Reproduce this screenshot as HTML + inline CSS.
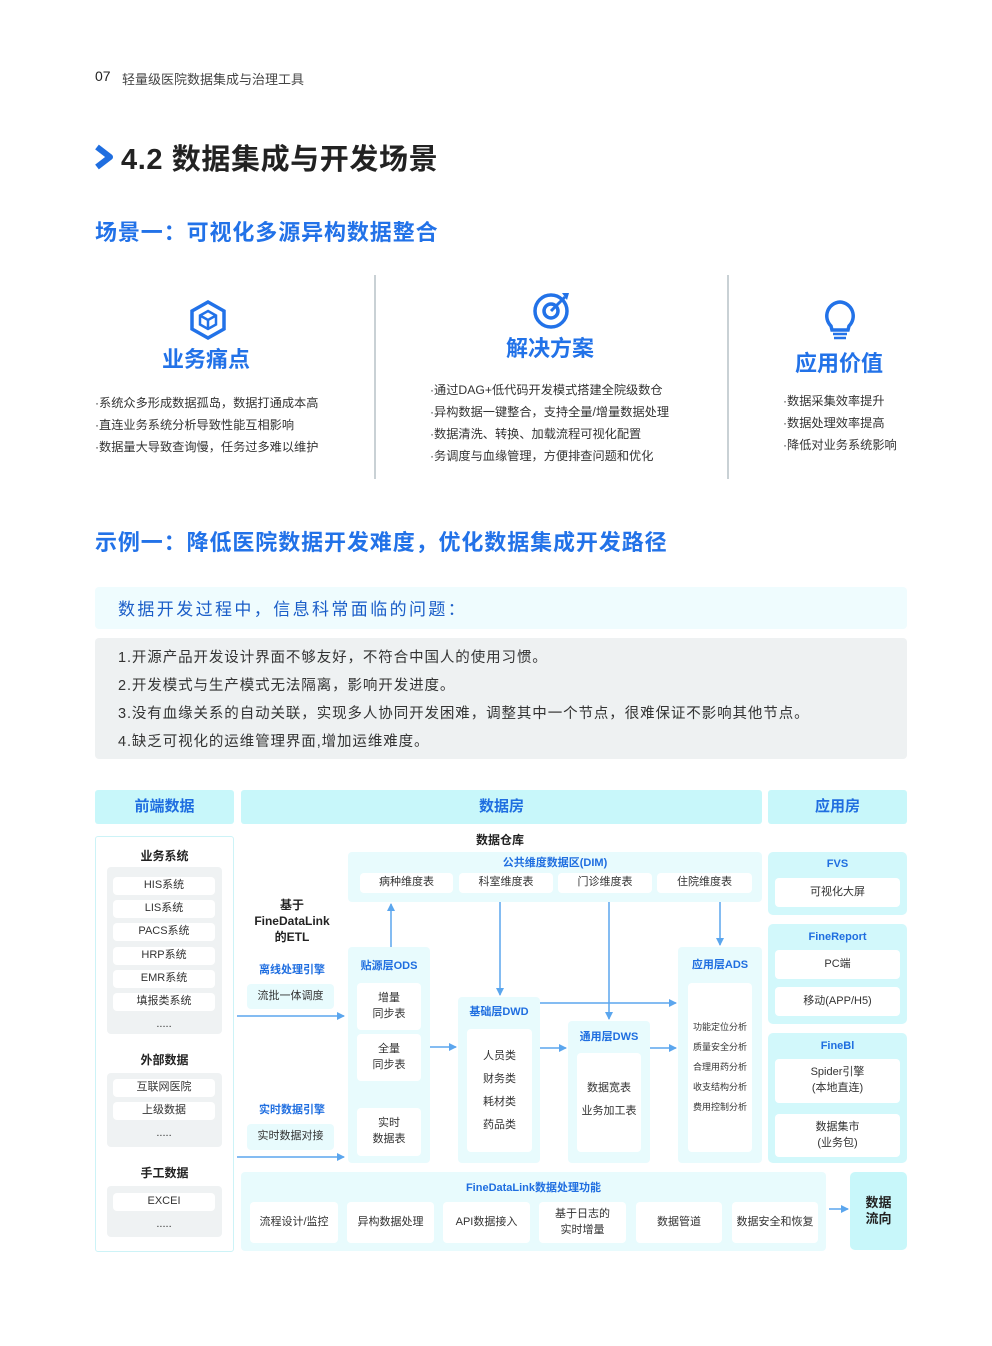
<!DOCTYPE html>
<html><head><meta charset="utf-8"><style>
*{margin:0;padding:0;box-sizing:border-box}
body{width:992px;height:1346px;background:#fff;position:relative;overflow:hidden;font-family:"Liberation Sans","Noto Sans CJK SC",sans-serif;color:#333}
.a{position:absolute}
.c{position:absolute;display:flex;align-items:center;justify-content:center;text-align:center;line-height:1.45}
.t{position:absolute;white-space:nowrap}
.hb{background:#c8f7fa;color:#1f6ee0;font-weight:bold;font-size:15px;border-radius:3px}
.lb{background:#e8fbfd;border-radius:4px}
.w{background:#fff;border-radius:4px;font-size:11px;color:#333}
.g{background:#eff2f3;border-radius:4px}
.bl{color:#1f6ee0;font-weight:bold;font-size:11px}
.bk{font-weight:bold;font-size:12px;color:#222}
.rb{background:#d2f8fb;border-radius:5px}
</style></head><body>
<div class="t" style="left:95px;top:68px;font-size:14px;color:#222">07</div>
<div class="t" style="left:122px;top:69px;font-size:13px;color:#444">轻量级医院数据集成与治理工具</div>
<svg class="a" style="left:94px;top:144px" width="20" height="26"><path d="M3 3 L16 13 L3 23" stroke="#1f6ee0" stroke-width="6" fill="none" stroke-linejoin="round"/></svg>
<div class="t" style="left:121px;top:136px;font-size:29px;font-weight:bold;color:#222;letter-spacing:0.6px">4.2 数据集成与开发场景</div>
<div class="t" style="left:95px;top:215px;font-size:22px;font-weight:bold;color:#2272e8;letter-spacing:0.9px">场景一：可视化多源异构数据整合</div>

<div class="a" style="left:374px;top:275px;width:1.5px;height:204px;background:#c9d1d5"></div>
<div class="a" style="left:727px;top:275px;width:1.5px;height:204px;background:#c9d1d5"></div>
<svg class="a" style="left:188px;top:299px" width="40" height="42"><path d="M20 3 L36 12 L36 30 L20 39 L4 30 L4 12 Z" fill="none" stroke="#2272e8" stroke-width="3.5"/><path d="M20 12 L28 16.5 L28 25.5 L20 30 L12 25.5 L12 16.5 Z M12 16.5 L20 21 L28 16.5 M20 21 L20 30" fill="none" stroke="#2272e8" stroke-width="2.5"/></svg>
<div class="t" style="left:162px;top:342px;font-size:22px;font-weight:bold;color:#2272e8">业务痛点</div>
<svg class="a" style="left:531px;top:290px" width="42" height="40"><circle cx="20" cy="21" r="16" fill="none" stroke="#2272e8" stroke-width="3.5"/><circle cx="20" cy="21" r="7" fill="none" stroke="#2272e8" stroke-width="3.5"/><path d="M20 21 L34 7" stroke="#2272e8" stroke-width="3"/><path d="M31 3 L38 3 L36 10" fill="#2272e8"/></svg>
<div class="t" style="left:506px;top:331px;font-size:22px;font-weight:bold;color:#2272e8">解决方案</div>
<svg class="a" style="left:822px;top:299px" width="36" height="42"><path d="M18 3 A14 14 0 0 1 27 27 L26 31 L10 31 L9 27 A14 14 0 0 1 18 3 Z" fill="none" stroke="#2272e8" stroke-width="3.5"/><path d="M11 35 H25 M12 39 H24" stroke="#2272e8" stroke-width="2.5"/></svg>
<div class="t" style="left:795px;top:346px;font-size:22px;font-weight:bold;color:#2272e8">应用价值</div>

<div class="t" style="left:95px;top:392px;font-size:12.2px;line-height:22px;color:#333">·系统众多形成数据孤岛，数据打通成本高<br>·直连业务系统分析导致性能互相影响<br>·数据量大导致查询慢，任务过多难以维护</div>
<div class="t" style="left:430px;top:379px;font-size:12.2px;line-height:22px;color:#333">·通过DAG+低代码开发模式搭建全院级数仓<br>·异构数据一键整合，支持全量/增量数据处理<br>·数据清洗、转换、加载流程可视化配置<br>·务调度与血缘管理，方便排查问题和优化</div>
<div class="t" style="left:783px;top:390px;font-size:12.2px;line-height:22px;color:#333">·数据采集效率提升<br>·数据处理效率提高<br>·降低对业务系统影响</div>

<div class="t" style="left:95px;top:525px;font-size:22px;font-weight:bold;color:#2272e8;letter-spacing:0.9px">示例一：降低医院数据开发难度，优化数据集成开发路径</div>
<div class="a" style="left:95px;top:587px;width:812px;height:42px;background:#effcfe;border-radius:4px"></div>
<div class="t" style="left:118px;top:595px;font-size:17px;color:#1b5ec8;letter-spacing:2.4px">数据开发过程中，信息科常面临的问题：</div>
<div class="a" style="left:95px;top:638px;width:812px;height:121px;background:#eef1f2;border-radius:4px"></div>
<div class="t" style="left:118px;top:644px;font-size:14.5px;line-height:28px;color:#333;letter-spacing:0.9px">1.开源产品开发设计界面不够友好，不符合中国人的使用习惯。<br>2.开发模式与生产模式无法隔离，影响开发进度。<br>3.没有血缘关系的自动关联，实现多人协同开发困难，调整其中一个节点，很难保证不影响其他节点。<br>4.缺乏可视化的运维管理界面,增加运维难度。</div>

<!-- diagram headers -->
<div class="c hb" style="left:95px;top:790px;width:139px;height:34px">前端数据</div>
<div class="c hb" style="left:241px;top:790px;width:521px;height:34px">数据房</div>
<div class="c hb" style="left:768px;top:790px;width:139px;height:34px">应用房</div>

<!-- left panel -->
<div class="a" style="left:95px;top:836px;width:139px;height:416px;border:1.5px solid #cdf3f7;border-radius:3px"></div>
<div class="c bk" style="left:95px;top:848px;width:139px;height:18px">业务系统</div>
<div class="a g" style="left:107px;top:867px;width:115px;height:167px"></div>
<div class="c w" style="left:113px;top:877px;width:102px;height:18px">HIS系统</div>
<div class="c w" style="left:113px;top:900px;width:102px;height:18px">LIS系统</div>
<div class="c w" style="left:113px;top:923px;width:102px;height:18px">PACS系统</div>
<div class="c w" style="left:113px;top:947px;width:102px;height:18px">HRP系统</div>
<div class="c w" style="left:113px;top:970px;width:102px;height:18px">EMR系统</div>
<div class="c w" style="left:113px;top:993px;width:102px;height:18px">填报类系统</div>
<div class="c" style="left:113px;top:1016px;width:102px;height:18px;font-size:11px">.....</div>
<div class="c bk" style="left:95px;top:1052px;width:139px;height:18px">外部数据</div>
<div class="a g" style="left:107px;top:1073px;width:115px;height:74px"></div>
<div class="c w" style="left:113px;top:1079px;width:102px;height:18px">互联网医院</div>
<div class="c w" style="left:113px;top:1102px;width:102px;height:18px">上级数据</div>
<div class="c" style="left:113px;top:1125px;width:102px;height:18px;font-size:11px">.....</div>
<div class="c bk" style="left:95px;top:1165px;width:139px;height:18px">手工数据</div>
<div class="a g" style="left:107px;top:1186px;width:115px;height:51px"></div>
<div class="c w" style="left:113px;top:1193px;width:102px;height:18px">EXCEI</div>
<div class="c" style="left:113px;top:1216px;width:102px;height:18px;font-size:11px">.....</div>

<!-- ETL -->
<div class="c bk" style="left:237px;top:896px;width:110px;height:50px;line-height:16px">基于<br>FineDataLink<br>的ETL</div>
<div class="c bl" style="left:237px;top:963px;width:110px;height:16px">离线处理引擎</div>
<div class="c lb" style="left:247px;top:984px;width:87px;height:25px;font-size:11px;color:#333">流批一体调度</div>
<div class="c bl" style="left:237px;top:1103px;width:110px;height:16px">实时数据引擎</div>
<div class="c lb" style="left:247px;top:1124px;width:87px;height:26px;font-size:11px;color:#333">实时数据对接</div>

<div class="c bk" style="left:440px;top:832px;width:120px;height:18px">数据仓库</div>
<!-- DIM -->
<div class="a lb" style="left:348px;top:852px;width:414px;height:50px"></div>
<div class="c bl" style="left:348px;top:856px;width:414px;height:16px">公共维度数据区(DIM)</div>
<div class="c w" style="left:360px;top:873px;width:93px;height:20px">病种维度表</div>
<div class="c w" style="left:459px;top:873px;width:94px;height:20px">科室维度表</div>
<div class="c w" style="left:558px;top:873px;width:94px;height:20px">门诊维度表</div>
<div class="c w" style="left:657px;top:873px;width:95px;height:20px">住院维度表</div>

<!-- ODS -->
<div class="a lb" style="left:348px;top:947px;width:82px;height:216px"></div>
<div class="c bl" style="left:348px;top:959px;width:82px;height:16px">贴源层ODS</div>
<div class="c w" style="left:357px;top:983px;width:64px;height:47px">增量<br>同步表</div>
<div class="c w" style="left:357px;top:1034px;width:64px;height:47px">全量<br>同步表</div>
<div class="c w" style="left:357px;top:1108px;width:64px;height:48px">实时<br>数据表</div>
<!-- DWD -->
<div class="a lb" style="left:458px;top:997px;width:82px;height:166px"></div>
<div class="c bl" style="left:458px;top:1005px;width:82px;height:16px">基础层DWD</div>
<div class="c w" style="left:467px;top:1029px;width:65px;height:123px;line-height:23px">人员类<br>财务类<br>耗材类<br>药品类</div>
<!-- DWS -->
<div class="a lb" style="left:568px;top:1021px;width:82px;height:142px"></div>
<div class="c bl" style="left:568px;top:1030px;width:82px;height:16px">通用层DWS</div>
<div class="c w" style="left:577px;top:1053px;width:64px;height:99px;line-height:23px;padding-bottom:6px">数据宽表<br>业务加工表</div>
<!-- ADS -->
<div class="a lb" style="left:678px;top:947px;width:84px;height:216px"></div>
<div class="c bl" style="left:678px;top:958px;width:84px;height:16px">应用层ADS</div>
<div class="c w" style="left:688px;top:983px;width:64px;height:169px;font-size:9px;line-height:20px;align-items:flex-start;padding-top:34px">功能定位分析<br>质量安全分析<br>合理用药分析<br>收支结构分析<br>费用控制分析</div>

<!-- arrows -->
<svg class="a" style="left:0;top:0" width="992" height="1346">
<defs><marker id="m" markerWidth="8" markerHeight="8" refX="7" refY="4" orient="auto" markerUnits="userSpaceOnUse"><path d="M0 0 L8 4 L0 8 Z" fill="#5ba6ee"/></marker></defs>
<g stroke="#5ba6ee" stroke-width="1.5" fill="none" marker-end="url(#m)">
<path d="M237 1016 H344"/>
<path d="M237 1157 H344"/>
<path d="M391 947 V904"/>
<path d="M500 902 V995"/>
<path d="M430 1047 H456"/>
<path d="M540 1003 H676"/>
<path d="M609 902 V1019"/>
<path d="M540 1048 H566"/>
<path d="M650 1048 H676"/>
<path d="M720 902 V945"/>
<path d="M829 1209 H848"/>
</g></svg>

<!-- right -->
<div class="a rb" style="left:768px;top:852px;width:139px;height:63px"></div>
<div class="c bl" style="left:768px;top:857px;width:139px;height:16px">FVS</div>
<div class="c w" style="left:775px;top:878px;width:125px;height:29px">可视化大屏</div>
<div class="a rb" style="left:768px;top:924px;width:139px;height:100px"></div>
<div class="c bl" style="left:768px;top:930px;width:139px;height:16px">FineReport</div>
<div class="c w" style="left:775px;top:950px;width:125px;height:29px">PC端</div>
<div class="c w" style="left:775px;top:987px;width:125px;height:29px">移动(APP/H5)</div>
<div class="a rb" style="left:768px;top:1033px;width:139px;height:130px"></div>
<div class="c bl" style="left:768px;top:1039px;width:139px;height:16px">FineBl</div>
<div class="c w" style="left:775px;top:1059px;width:125px;height:44px">Spider引擎<br>(本地直连)</div>
<div class="c w" style="left:775px;top:1114px;width:125px;height:43px">数据集市<br>(业务包)</div>

<!-- bottom -->
<div class="a lb" style="left:241px;top:1172px;width:585px;height:79px"></div>
<div class="c bl" style="left:241px;top:1181px;width:585px;height:16px">FineDataLink数据处理功能</div>
<div class="c w" style="left:250px;top:1202px;width:88px;height:41px">流程设计/监控</div>
<div class="c w" style="left:347px;top:1202px;width:87px;height:41px">异构数据处理</div>
<div class="c w" style="left:443px;top:1202px;width:87px;height:41px">API数据接入</div>
<div class="c w" style="left:539px;top:1202px;width:87px;height:41px">基于日志的<br>实时增量</div>
<div class="c w" style="left:636px;top:1202px;width:86px;height:41px">数据管道</div>
<div class="c w" style="left:732px;top:1202px;width:86px;height:41px">数据安全和恢复</div>
<div class="c" style="left:850px;top:1172px;width:57px;height:78px;background:#c8f7fa;border-radius:5px;font-weight:bold;font-size:13px;color:#222;line-height:16px">数据<br>流向</div>
</body></html>
